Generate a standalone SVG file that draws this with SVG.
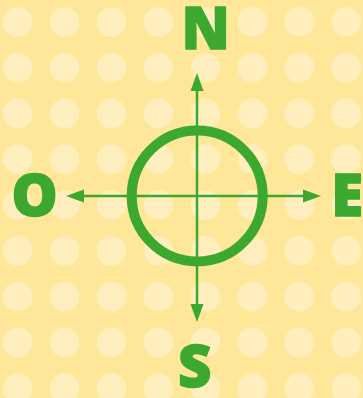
<svg xmlns="http://www.w3.org/2000/svg" width="363" height="398" viewBox="0 0 363 398">
  <style>
    .lbl { font-family: "Open Sans", "Liberation Sans", sans-serif; font-weight: 800; font-size: 58px; fill: #3CA92E; stroke: #3CA92E; stroke-width: 1.4; stroke-linejoin: round; text-anchor: middle; }
    .axis { stroke: #3CA92E; stroke-width: 2.5; fill: none; marker-end: url(#arrow); }
  </style>
  <defs>
    <pattern id="dots" x="-5.875" y="-1.1" width="46.95" height="45.8" patternUnits="userSpaceOnUse">
      <circle cx="23.475" cy="22.9" r="14.8" fill="#FFEFBE"/>
    </pattern>
    <marker id="arrow" markerUnits="userSpaceOnUse" markerWidth="20" markerHeight="16" viewBox="0 -8 20 16" refX="10" refY="0" orient="auto">
      <path d="M0,-6.5 L18,0 L0,6.5 Z" fill="#3CA92E"/>
    </marker>
  </defs>
  <rect width="363" height="398" fill="#FFE799"/>
  <rect width="363" height="398" fill="url(#dots)"/>
  <g id="connectors">
    <line class="axis" x1="197" y1="196" x2="197" y2="81"/>
    <line class="axis" x1="197" y1="196" x2="197" y2="314"/>
    <line class="axis" x1="197" y1="196" x2="74" y2="196"/>
    <line class="axis" x1="197" y1="196" x2="313" y2="196"/>
  </g>
  <g id="compass">
    <circle cx="197.2" cy="196" r="65.5" fill="none" stroke="#3CA92E" stroke-width="10"/>
  </g>
  <g id="north"><text class="lbl" x="205.8" y="48.6">N</text></g>
  <g id="south"><text class="lbl" x="194.7" y="386.8">S</text></g>
  <g id="east"><text class="lbl" x="347.2" y="216">E</text></g>
  <g id="west"><text class="lbl" x="34.5" y="215.8">O</text></g>
</svg>
